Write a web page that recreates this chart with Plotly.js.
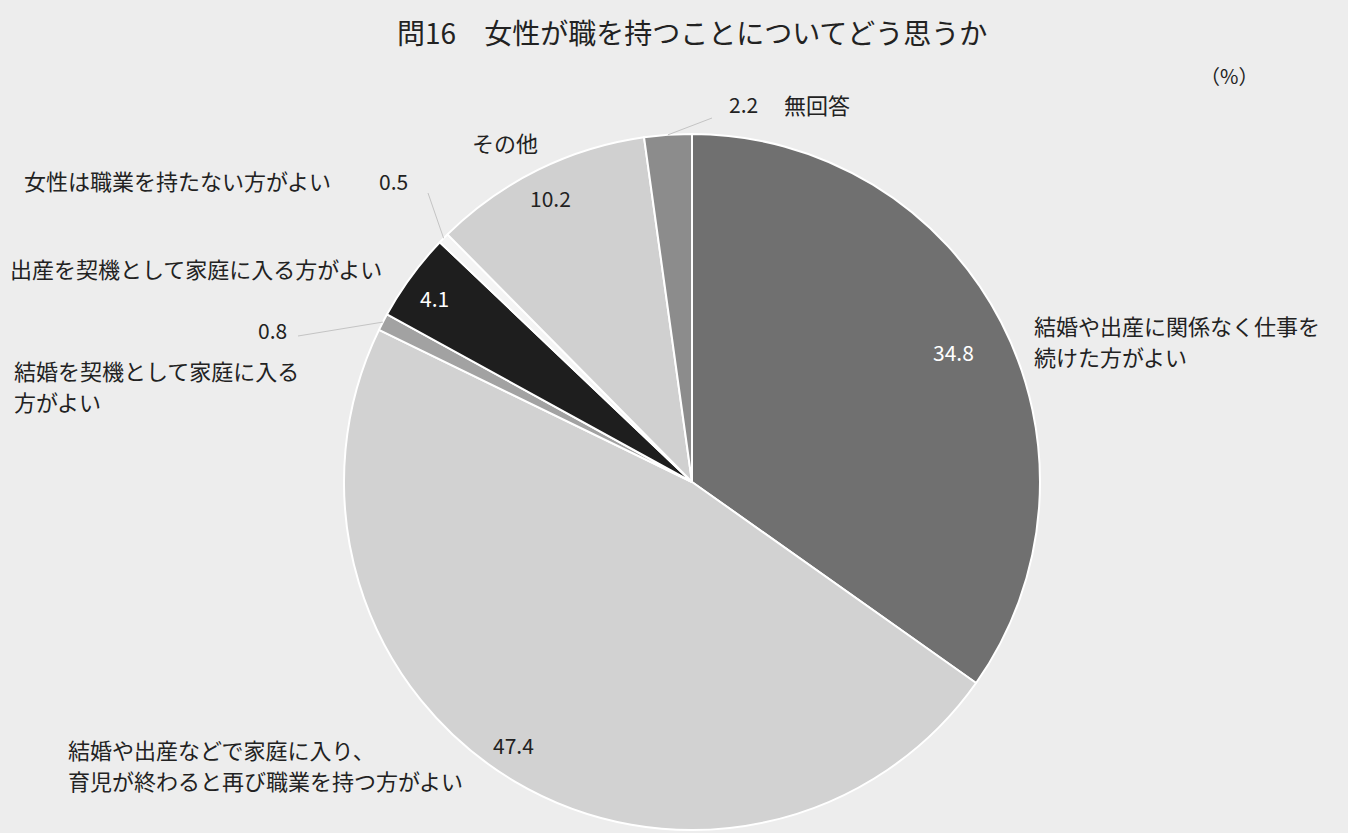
<!DOCTYPE html>
<html>
<head>
<meta charset="utf-8">
<script src="https://cdn.plot.ly/plotly-3.0.1.min.js"></script>
<style>html,body{margin:0;padding:0;background:#ededed;}</style>
</head>
<body>
<div id="chart" style="width:1348px;height:833px;"></div>
<script>
// ---- data ----
var categories = [
  "結婚や出産に関係なく仕事を<br>続けた方がよい",
  "結婚や出産などで家庭に入り、<br>育児が終わると再び職業を持つ方がよい",
  "結婚を契機として家庭に入る<br>方がよい",
  "出産を契機として家庭に入る方がよい",
  "女性は職業を持たない方がよい",
  "その他",
  "無回答"
];
var values = [34.8, 47.4, 0.8, 4.1, 0.5, 10.2, 2.2];
var sliceColors = ["#707070", "#d2d2d2", "#a2a2a2", "#1e1e1e", "#f4f4f4", "#d0d0d0", "#8c8c8c"];
var chartTitle = "問16　女性が職を持つことについてどう思うか";
var unitLabel = "（%）";

// ---- layout geometry ----
var W = 1348, H = 833;
var cx = 692, cy = 482, R = 348;
function px(x) { return x / W; }
function py(y) { return 1 - y / H; }

var FONT = "'Noto Sans CJK JP', 'Noto Sans', sans-serif";
var TXT = "#222222";
var LABEL_SIZE = 22, NUM_SIZE = 21;

var trace = {
  type: "pie",
  labels: categories,
  values: values,
  sort: false,
  direction: "clockwise",
  rotation: 0,
  marker: { colors: sliceColors, line: { color: "#ffffff", width: 2 } },
  textinfo: "none",
  hoverinfo: "label+value",
  showlegend: false,
  domain: { x: [px(cx - R), px(cx + R)], y: [py(cy + R), py(cy - R)] }
};

// angle helper (clockwise from 12 o'clock)
var total = values.reduce(function (a, b) { return a + b; }, 0);
function midAngle(i) {
  var c = 0;
  for (var k = 0; k < i; k++) c += values[k];
  return (c + values[i] / 2) / total * 2 * Math.PI;
}
function edgePt(i, rr) {
  var a = midAngle(i);
  return [cx + rr * Math.sin(a), cy - rr * Math.cos(a)];
}

function ann(text, x, y, opts) {
  opts = opts || {};
  return {
    text: text, xref: "paper", yref: "paper",
    x: px(x), y: py(y),
    xanchor: opts.xanchor || "center", yanchor: "middle",
    align: opts.align || "center",
    showarrow: false,
    font: { family: FONT, size: opts.size || LABEL_SIZE, color: opts.color || TXT }
  };
}
// category label, split into one annotation per line
function catAnn(i, x, y, lineGap, opts) {
  var lines = categories[i].split("<br>");
  return lines.map(function (t, k) { return ann(t, x, y + k * lineGap, opts); });
}
function fmt(v) { return v.toFixed(1); }

var L = { xanchor: "left", align: "left" };
var annotations = [
  ann(unitLabel, 1229, 76, { size: 20 }),
  ann(fmt(values[0]), 953, 352, { color: "#ffffff", size: NUM_SIZE }),
  ann(fmt(values[1]), 513, 745, { size: NUM_SIZE }),
  ann(fmt(values[2]), 272, 330, { size: NUM_SIZE }),
  ann(fmt(values[3]), 434, 298, { color: "#ffffff", size: NUM_SIZE }),
  ann(fmt(values[4]), 393, 181, { size: NUM_SIZE }),
  ann(fmt(values[5]), 550, 198, { size: NUM_SIZE }),
  ann(fmt(values[6]), 743, 104, { size: NUM_SIZE }),
  ann(categories[5], 505, 142),
  ann(categories[6], 817, 104),
  ann(categories[3], 8, 268, L),
  ann(categories[4], 22, 180, L)
].concat(
  catAnn(0, 1032, 325, 31, L),
  catAnn(1, 66, 749, 31, L),
  catAnn(2, 12, 370, 31, L)
);

// faint leader lines from the small slices to their labels
var p6 = edgePt(6, R), p4 = edgePt(4, R), p2 = edgePt(2, R);
var shapes = [
  { type: "line", xref: "paper", yref: "paper", x0: px(p6[0]), y0: py(p6[1]), x1: px(712), y1: py(118), line: { color: "#c4c4c4", width: 1 } },
  { type: "line", xref: "paper", yref: "paper", x0: px(p4[0]), y0: py(p4[1]), x1: px(428), y1: py(193), line: { color: "#c4c4c4", width: 1 } },
  { type: "line", xref: "paper", yref: "paper", x0: px(p2[0]), y0: py(p2[1]), x1: px(298), y1: py(336), line: { color: "#c4c4c4", width: 1 } }
];

var layout = {
  width: W, height: H,
  margin: { l: 0, r: 0, t: 0, b: 0 },
  paper_bgcolor: "#ededed",
  plot_bgcolor: "#ededed",
  title: {
    text: chartTitle,
    font: { family: FONT, size: 28, color: "#222222" },
    x: 0.5135, xanchor: "center",
    y: 1 - 34 / H, yanchor: "middle"
  },
  annotations: annotations,
  shapes: shapes,
  showlegend: false
};

Plotly.newPlot("chart", [trace], layout, { displayModeBar: false, staticPlot: true });
</script>
</body>
</html>
